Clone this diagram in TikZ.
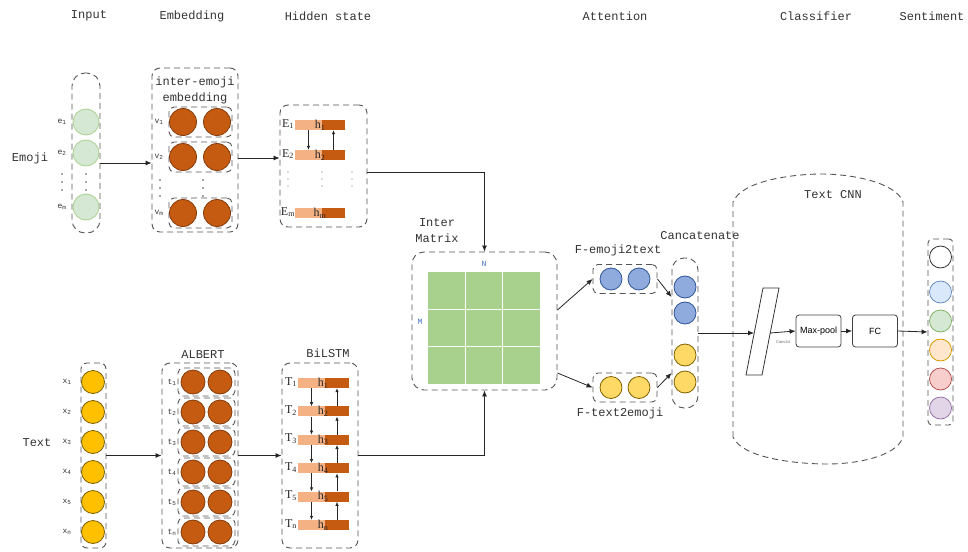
\documentclass[tikz,border=0pt]{standalone}
\usepackage{fontspec}
\setmainfont{Liberation Mono}
\newfontfamily\serf{Liberation Serif}
\newfontfamily\sansf{Liberation Sans}
\usetikzlibrary{positioning,arrows.meta,calc}

\definecolor{dgray}{HTML}{555555}
\definecolor{orng}{HTML}{C55A11}
\definecolor{orngd}{HTML}{843C0C}
\definecolor{lbarc}{HTML}{F4B183}
\definecolor{ylw}{HTML}{FFC000}
\definecolor{ylwl}{HTML}{FFD966}
\definecolor{ylwd}{HTML}{7F6000}
\definecolor{blu}{HTML}{8FAADC}
\definecolor{blud}{HTML}{2F5597}
\definecolor{grn}{HTML}{D5E8D4}
\definecolor{grnd}{HTML}{A9D18E}
\definecolor{labblue}{HTML}{4472C4}

\tikzset{
  dbox/.style={draw=dgray, line width=0.9pt, dash pattern=on 6pt off 4pt, rounded corners=8pt, inner sep=0pt},
  arr/.style={-{Latex[length=6pt,width=5pt]}, line width=0.8pt, draw=black!85},
  sarr/.style={-{Latex[length=4pt,width=3.5pt]}, line width=0.7pt, draw=black!85},
  dot/.style={circle, inner sep=0pt, line width=0.8pt},
  lab/.style={font=\fontsize{12}{16}\selectfont, inner sep=0pt, text=black!80},
  sub/.style={font=\fontsize{8}{9}\selectfont, inner sep=0pt, text=black!80},
  serl/.style={font=\serf\fontsize{12}{14}\selectfont, inner sep=0pt, text=black!85},
  bar/.style={inner sep=0pt, minimum height=10pt},
  blk/.style={draw=black!75, line width=0.8pt, rounded corners=3pt, minimum width=45pt, minimum height=32pt, font=\sansf\fontsize{9}{10}\selectfont}
}

\begin{document}
\begin{tikzpicture}[x=1pt,y=-1pt]
  \useasboundingbox (0,0) rectangle (968,551);

  % column headers
  \foreach \x/\t in {89/Input,192/Embedding,328/Hidden state,615/Attention,816/Classifier,932/Sentiment}
    \node[lab] (hd\x) at (\x,16) {\t};

  % emoji input
  \node[lab] (emoji) at (30,158) {Emoji};
  \node[dbox, rounded corners=13pt, minimum width=28pt, minimum height=160pt] (ecol) at (86,153) {};
  \foreach \y/\i in {122/1,153/2,207/m}{
    \node[dot, fill=grn, draw=grnd, minimum size=26pt] (e\i) at (86,\y) {};
    \node[sub] (el\i) at (62,\y) {e\textsubscript{\i}};
  }
  \foreach \d in {0,1,2}{
    \fill[black!70] (62,174+8*\d) circle (0.8pt);
    \fill[black!70] (86,174+8*\d) circle (0.8pt);
  }

  % inter-emoji embedding
  \node[dbox, minimum width=86pt, minimum height=164pt] (embbox) at (195,150) {};
  \node[lab, align=center] (embt) at (195,90) {inter-emoji\\embedding};
  \foreach \y/\i in {122/1,157/2,213/m}{
    \node[dbox, rounded corners=5pt, minimum width=63pt, minimum height=30pt] (v\i) at (200.5,\y) {};
    \node[dot, fill=orng, draw=orngd, minimum size=27pt] (va\i) at (183,\y) {};
    \node[dot, fill=orng, draw=orngd, minimum size=27pt] (vb\i) at (217,\y) {};
    \node[sub] (vl\i) at (159,\y) {v\textsubscript{\i}};
  }
  \foreach \d in {0,1,2}{
    \fill[black!70] (160,180+8*\d) circle (0.8pt);
    \fill[black!70] (203,180+8*\d) circle (0.8pt);
  }

  % emoji hidden state
  \node[dbox, minimum width=87pt, minimum height=122pt] (hidbox) at (323.5,166) {};
  \foreach \y/\i in {125/1,155/2,213/m}{
    \node[bar, fill=lbarc, minimum width=27pt] (hl\i) at (308.5,\y) {};
    \node[bar, fill=orng, minimum width=23pt] (hd\i) at (333.5,\y) {};
    \node[serl] (El\i) at (288,\y-1) {E\textsubscript{\i}};
    \node[serl] (hh\i) at (320,\y) {h\textsubscript{\i}};
  }
  \draw[sarr] (hl1.south) -- (hl2.north);
  \draw[sarr] (hd2.north) -- (hd1.south);
  \foreach \d in {0,1,2}{
    \fill[black!60] (288,172+7*\d) circle (0.7pt);
    \fill[black!60] (322,172+7*\d) circle (0.7pt);
    \fill[black!60] (352,172+7*\d) circle (0.7pt);
  }

  % text input
  \node[lab] (text) at (37,443) {Text};
  \node[dbox, rounded corners=6pt, minimum width=25pt, minimum height=185pt] (xcol) at (93.5,455.5) {};
  \node[dbox, minimum width=76pt, minimum height=185pt] (albert) at (200,455.5) {};
  \node[lab] (albt) at (203,355) {ALBERT};
  \foreach \i/\n in {0/1,1/2,2/3,3/4,4/5,5/n}{
    \pgfmathsetmacro{\y}{382+30*\i}
    \node[dot, fill=ylw, draw=ylwd, minimum size=23pt] (x\n) at (93,\y) {};
    \node[sub] (xl\n) at (67,\y) {x\textsubscript{\n}};
    \node[dbox, rounded corners=5pt, minimum width=57pt, minimum height=28pt] (t\n) at (206.5,\y) {};
    \node[dot, fill=orng, draw=orngd, minimum size=24pt] (ta\n) at (193,\y) {};
    \node[dot, fill=orng, draw=orngd, minimum size=24pt] (tb\n) at (220,\y) {};
    \node[sub] (tl\n) at (172,\y) {t\textsubscript{\n}};
  }

  % BiLSTM
  \node[dbox, minimum width=76pt, minimum height=185pt] (bilstm) at (320,455.5) {};
  \node[lab] (bilt) at (328,353) {BiLSTM};
  \foreach \i/\n in {0/1,1/2,2/3,3/4,4/5,5/n}{
    \pgfmathsetmacro{\y}{383+28.4*\i}
    \node[bar, fill=lbarc, minimum width=27pt] (bl\n) at (311.5,\y) {};
    \node[bar, fill=orng, minimum width=24pt] (bd\n) at (337,\y) {};
    \node[serl] (Tl\n) at (291,\y-1) {T\textsubscript{\n}};
    \node[serl] (th\n) at (323,\y) {h\textsubscript{\n}};
  }
  \foreach \a/\b in {1/2,2/3,3/4,4/5,5/n}{
    \draw[sarr] (bl\a.south) -- (bl\b.north);
    \draw[sarr] (bd\b.north) -- (bd\a.south);
  }

  % arrows of both branches
  \coordinate (ea) at ([yshift=-10pt]ecol.east);
  \draw[arr] (ea) -- (ea -| embbox.west);
  \coordinate (eb) at ([yshift=-8pt]embbox.east);
  \draw[arr] (eb) -- (eb -| hidbox.west);
  \draw[arr] (xcol.east) -- (albert.west);
  \draw[arr] (albert.east) -- (bilstm.west);

  % interaction matrix
  \node[dbox, rounded corners=12pt, minimum width=145pt, minimum height=138pt] (matbox) at (484.5,321) {};
  \node[lab, align=center] (matt) at (437,231) {Inter\\Matrix};
  \fill[grnd] (428,272) rectangle (540,384);
  \foreach \k in {1,2}{
    \draw[white, line width=0.8pt] (428+37.33*\k,272) -- (428+37.33*\k,384);
    \draw[white, line width=0.8pt] (428,272+37.33*\k) -- (540,272+37.33*\k);
  }
  \node[font=\fontsize{8}{9}\selectfont, text=labblue, inner sep=0pt] (nlab) at (484,264) {N};
  \node[font=\fontsize{8}{9}\selectfont, text=labblue, inner sep=0pt] (mlab) at (420,322) {M};
  \draw[arr] ([yshift=-6pt]hidbox.east) -| (matbox.north);
  \draw[arr] (bilstm.east) -| (matbox.south);

  % attention outputs
  \node[lab] (f1t) at (618,250) {F-emoji2text};
  \node[lab] (f2t) at (620,413) {F-text2emoji};
  \node[dbox, rounded corners=5pt, minimum width=64pt, minimum height=29pt] (f1) at (625,279) {};
  \node[dbox, rounded corners=5pt, minimum width=64pt, minimum height=29pt] (f2) at (625,387.5) {};
  \foreach \x/\i in {611/a,639/b}{
    \node[dot, fill=blu, draw=blud, minimum size=22pt] (fb\i) at (\x,279) {};
    \node[dot, fill=ylwl, draw=ylwd, minimum size=22pt] (fy\i) at (\x,387.5) {};
  }
  \draw[arr] ([yshift=11pt]matbox.east) -- (f1.west);
  \draw[arr] ([yshift=-52pt]matbox.east) -- (f2.west);

  % concatenate
  \node[lab] (cct) at (700,236) {Cancatenate};
  \node[dbox, rounded corners=12pt, minimum width=26pt, minimum height=150pt] (ccol) at (685,333) {};
  \foreach \y/\i in {287/1,313/2}
    \node[dot, fill=blu, draw=blud, minimum size=22pt] (cb\i) at (685,\y) {};
  \foreach \y/\i in {355/1,382/2}
    \node[dot, fill=ylwl, draw=ylwd, minimum size=22pt] (cy\i) at (685,\y) {};
  \draw[arr] (f1.east) -- ([yshift=36pt]ccol.west);
  \draw[arr] (f2.east) -- ([yshift=-40pt]ccol.west);

  % Text CNN classifier
  \draw[draw=dgray, line width=0.9pt, dash pattern=on 6pt off 4pt]
    (733,437) -- (733,202) .. controls (742,180) and (795,174) .. (822,174)
    .. controls (850,174) and (896,182) .. (903,202) -- (903,437)
    .. controls (896,458) and (852,464) .. (828,464)
    .. controls (795,464) and (742,458) .. (733,437);
  \node[lab] (cnnt) at (833,195) {Text CNN};
  \draw[line width=0.8pt, draw=black!80] (763,288) -- (779,288) -- (762,375) -- (746,375) -- cycle;
  \coordinate (convin) at (754,333);
  \coordinate (convout) at (770,333);
  \node[font=\sansf\fontsize{4}{5}\selectfont, text=black!60, inner sep=0pt] (convt) at (783,342) {Conv1d};
  \node[blk] (maxp) at (818.5,331) {Max-pool};
  \node[blk] (fc) at (875,331) {FC};
  \draw[arr] (ccol.east) -- (convin);
  \draw[arr] (convout) -- (maxp.west);
  \draw[arr] (maxp.east) -- (fc.west);

  % sentiment output
  \node[dbox, rounded corners=4pt, minimum width=25pt, minimum height=186pt] (scol) at (940.5,332) {};
  \node[dot, fill=white, draw=black!80, minimum size=22pt] (s1) at (940.5,257) {};
  \node[dot, fill={rgb,255:red,218;green,232;blue,252}, draw={rgb,255:red,108;green,142;blue,191}, minimum size=22pt] (s2) at (940.5,292) {};
  \node[dot, fill={rgb,255:red,213;green,232;blue,212}, draw={rgb,255:red,130;green,179;blue,102}, minimum size=22pt] (s3) at (940.5,321) {};
  \node[dot, fill={rgb,255:red,255;green,230;blue,204}, draw={rgb,255:red,215;green,155;blue,0}, minimum size=22pt] (s4) at (940.5,350) {};
  \node[dot, fill={rgb,255:red,248;green,206;blue,204}, draw={rgb,255:red,184;green,84;blue,80}, minimum size=22pt] (s5) at (940.5,379) {};
  \node[dot, fill={rgb,255:red,225;green,213;blue,231}, draw={rgb,255:red,150;green,115;blue,166}, minimum size=22pt] (s6) at (940.5,408) {};
  \draw[arr] (fc.east) -- (scol.west);
\end{tikzpicture}
\end{document}
